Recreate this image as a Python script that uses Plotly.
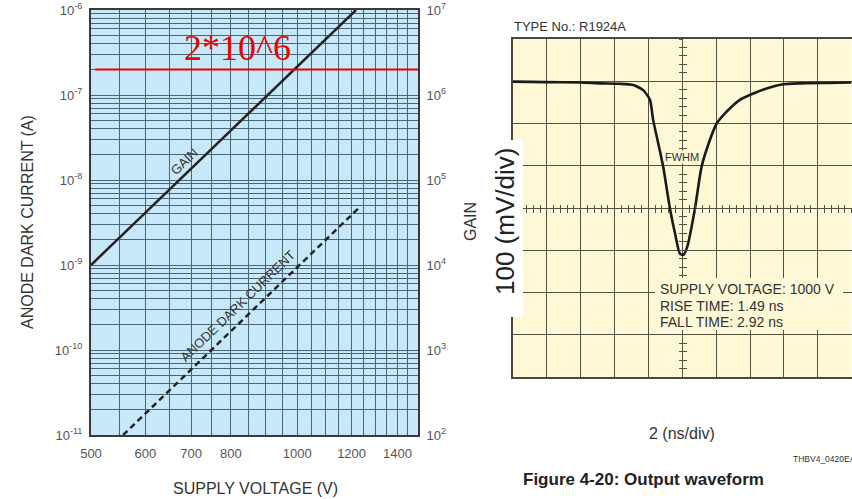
import math
import plotly.graph_objects as go

# ---------------- data: gain / anode dark current chart ----------------
gain_voltage = [500, 1218]
gain_values = [1e4, 1e7]
dark_voltage = [557, 1230]
dark_current = [1e-11, 4.7e-9]
ref_voltage = [507, 1500]
ref_gain = [2e6, 2e6]

voltage_ticks = [500, 600, 700, 800, 1000, 1200, 1400]
voltage_grid = [550, 600, 650, 700, 750, 800, 850, 900, 950, 1000, 1050, 1100,
                1150, 1200, 1250, 1300, 1350, 1400, 1450]
current_ticks = [1e-11, 1e-10, 1e-9, 1e-8, 1e-7, 1e-6]
current_ticktext = ["10<sup>-11</sup>", "10<sup>-10</sup>", "10<sup>-9</sup>",
                    "10<sup>-8</sup>", "10<sup>-7</sup>", "10<sup>-6</sup>"]
current_grid = [m * d for d in [1e-11, 1e-10, 1e-9, 1e-8, 1e-7] for m in [2, 3, 4, 5, 6, 7, 8, 9]]
gain_ticks = [1e2, 1e3, 1e4, 1e5, 1e6, 1e7]
gain_ticktext = ["10<sup>2</sup>", "10<sup>3</sup>", "10<sup>4</sup>",
                 "10<sup>5</sup>", "10<sup>6</sup>", "10<sup>7</sup>"]

# ---------------- data: output waveform ----------------
wave_time = [0, 2, 4, 5.14, 6.3, 7.10, 7.69, 8.09, 8.28, 8.58, 8.87, 9.27, 9.57, 9.86,
             10.06, 10.29, 10.75, 11.14, 11.63, 12.03, 12.62, 13.40, 14.19, 14.98,
             15.96, 16.95, 18.5, 20]
wave_mv = [-1, -2, -3, -5, -6, -9, -21, -44, -92, -147, -202, -301, -360, -408,
           -411, -392, -301, -202, -139, -100, -72, -44, -29, -17,
           -7, -5, -4, -3]

W, H = 852, 499
def px(x):
    return x / W
def py(y):
    return 1 - y / H

FONT = "Liberation Sans, Arial, Helvetica, sans-serif"
BLUE_BG = "#c7e8f9"
BLUE_GRID = "#48657a"
CREAM = "#fff8d6"
SCOPE_GRID = "#55523f"

left_dom_x = [px(91), px(418)]
left_dom_y = [py(435), py(10)]
scope_dom_x = [px(513), 0.9995]
scope_dom_y = [py(377), py(39)]

fig = go.Figure()

fig.add_trace(go.Scatter(x=gain_voltage, y=gain_values, xaxis="x", yaxis="y2",
                         mode="lines", line=dict(color="#222222", width=2.5),
                         hoverinfo="skip", showlegend=False))
fig.add_trace(go.Scatter(x=dark_voltage, y=dark_current, xaxis="x", yaxis="y",
                         mode="lines", line=dict(color="#222222", width=2.5, dash="6px,4px"),
                         hoverinfo="skip", showlegend=False))
fig.add_trace(go.Scatter(x=ref_voltage, y=ref_gain, xaxis="x", yaxis="y2",
                         mode="lines", line=dict(color="#ee0000", width=2),
                         hoverinfo="skip", showlegend=False))

fig.add_trace(go.Scatter(x=wave_time, y=wave_mv, xaxis="x3", yaxis="y3",
                         mode="lines", line=dict(color="#1a1a1a", width=2.6, shape="spline", smoothing=0.6),
                         hoverinfo="skip", showlegend=False))
# empty traces to realise the centre-line tick axes
for xa, ya in [("x4", "y3"), ("x5", "y3"), ("x3", "y4"), ("x3", "y5")]:
    fig.add_trace(go.Scatter(x=[None], y=[None], xaxis=xa, yaxis=ya, mode="lines",
                             hoverinfo="skip", showlegend=False))

center_y = scope_dom_y[0] + 0.5 * (scope_dom_y[1] - scope_dom_y[0])
center_x = scope_dom_x[0] + 0.5 * (scope_dom_x[1] - scope_dom_x[0])

tick_axis = dict(showgrid=False, zeroline=False, showline=False, showticklabels=False,
                 ticklen=3.5, tickwidth=1.2, tickcolor=SCOPE_GRID, automargin=False)

fig.update_layout(
    width=W, height=H, autosize=False, margin=dict(l=0, r=0, t=0, b=0, pad=0, autoexpand=False),
    paper_bgcolor="white", plot_bgcolor="rgba(0,0,0,0)", showlegend=False,
    font=dict(family=FONT, color="#444"),
    xaxis=dict(domain=left_dom_x, anchor="y", type="log", automargin=False,
               range=[math.log10(500), math.log10(1500)],
               tickmode="array", tickvals=voltage_ticks, ticktext=[str(v) for v in voltage_ticks],
               ticks="outside", ticklen=5, tickcolor="rgba(0,0,0,0)",
               tickfont=dict(size=13, color="#555"),
               showgrid=True, gridcolor=BLUE_GRID, gridwidth=1,
               minor=dict(tickmode="array", tickvals=voltage_grid, showgrid=True,
                          gridcolor=BLUE_GRID, gridwidth=1, ticks=""),
               showline=True, mirror=True, linecolor="#3a3a3a", linewidth=2, zeroline=False),
    yaxis=dict(domain=left_dom_y, anchor="x", type="log", range=[-11, -6], automargin=False,
               tickmode="array", tickvals=current_ticks, ticktext=current_ticktext,
               ticks="outside", ticklen=4, tickcolor="rgba(0,0,0,0)",
               tickfont=dict(size=13, color="#555"),
               showgrid=True, gridcolor=BLUE_GRID, gridwidth=1,
               minor=dict(tickmode="array", tickvals=current_grid, showgrid=True,
                          gridcolor=BLUE_GRID, gridwidth=1, ticks=""),
               showline=True, mirror=True, linecolor="#3a3a3a", linewidth=2, zeroline=False),
    yaxis2=dict(overlaying="y", side="right", anchor="x", type="log", range=[2, 7], automargin=False,
                tickmode="array", tickvals=gain_ticks, ticktext=gain_ticktext,
                ticks="outside", ticklen=5, tickcolor="rgba(0,0,0,0)",
                tickfont=dict(size=13, color="#555"), showgrid=False, zeroline=False),
    xaxis3=dict(domain=scope_dom_x, anchor="y3", range=[0, 20], tickmode="linear", tick0=0, dtick=2,
                showticklabels=False, ticks="", showgrid=True, gridcolor=SCOPE_GRID, gridwidth=1.3,
                automargin=False,
                showline=True, mirror=True, linecolor="#4a4a40", linewidth=2, zeroline=False),
    yaxis3=dict(domain=scope_dom_y, anchor="x3", range=[-700, 100], tickmode="linear", tick0=0, dtick=100,
                showticklabels=False, ticks="", showgrid=True, gridcolor=SCOPE_GRID, gridwidth=1.3,
                automargin=False,
                showline=True, mirror=True, linecolor="#4a4a40", linewidth=2, zeroline=False),
    xaxis4=dict(overlaying="x3", anchor="free", position=center_y, range=[0, 20],
                tickmode="linear", tick0=0, dtick=0.4, ticks="outside", **tick_axis),
    xaxis5=dict(overlaying="x3", anchor="free", position=center_y, range=[0, 20],
                tickmode="linear", tick0=0, dtick=0.4, ticks="inside", **tick_axis),
    yaxis4=dict(overlaying="y3", anchor="free", position=center_x, range=[-700, 100],
                tickmode="linear", tick0=0, dtick=20, ticks="outside", **tick_axis),
    yaxis5=dict(overlaying="y3", anchor="free", position=center_x, range=[-700, 100],
                tickmode="linear", tick0=0, dtick=20, ticks="inside", **tick_axis),
)

shapes = [
    dict(type="rect", xref="x domain", yref="y domain", x0=0, x1=1, y0=0, y1=1,
         fillcolor=BLUE_BG, line=dict(width=0), layer="below"),
    dict(type="rect", xref="x3 domain", yref="y3 domain", x0=0, x1=1, y0=0, y1=1,
         fillcolor=CREAM, line=dict(width=0), layer="below"),
    dict(type="rect", xref="paper", yref="paper", x0=px(480), x1=px(523), y0=py(317), y1=py(140),
         fillcolor="white", line=dict(width=0), layer="above"),
    dict(type="rect", xref="paper", yref="paper", x0=px(655), x1=px(843), y0=py(330), y1=py(278),
         fillcolor=CREAM, line=dict(width=0), layer="above"),
]
fig.update_layout(shapes=shapes)

def ann(text, x, y, size, color="#444", angle=0, xanchor="center", family=FONT, bg=None, **kw):
    d = dict(text=text, x=px(x), y=py(y), xref="paper", yref="paper", showarrow=False,
             xanchor=xanchor, yanchor="middle", textangle=angle,
             font=dict(size=size, color=color, family=family))
    if bg:
        d["bgcolor"] = bg
    d.update(kw)
    return d

annotations = [
    ann("2*10^6", 238, 48, 36, color="#ee0000", family="Liberation Serif, Times New Roman, serif"),
    ann("GAIN", 184, 161, 13, color="#333", angle=-44),
    ann("ANODE DARK CURRENT", 237, 306, 13, color="#333", angle=-44),
    ann("ANODE DARK CURRENT (A)", 27, 222, 16, color="#333", angle=-90),
    ann("SUPPLY VOLTAGE (V)", 255, 488, 16, color="#333"),
    ann("GAIN", 470, 222, 16, color="#333", angle=-90),
    ann("TYPE No.: R1924A", 512, 27, 13, color="#333", xanchor="left"),
    ann("FWHM", 682, 157, 11, color="#333", bg=CREAM, borderpad=0),
    ann("SUPPLY VOLTAGE: 1000 V", 658, 289, 14, color="#333", xanchor="left"),
    ann("RISE TIME: 1.49 ns", 658, 305.5, 14, color="#333", xanchor="left"),
    ann("FALL TIME: 2.92 ns", 658, 322, 14, color="#333", xanchor="left"),
    ann("100 (mV/div)", 505, 221, 26, color="#222", angle=-90),
    ann("2 (ns/div)", 682, 433, 16, color="#333"),
    ann("THBV4_0420EA", 791, 459, 8.5, color="#333", xanchor="left"),
    ann("<b>Figure 4-20: Output waveform</b>", 521, 479, 17, color="#222", xanchor="left"),
]
fig.update_layout(annotations=annotations)

fig.write_html("out.html")
